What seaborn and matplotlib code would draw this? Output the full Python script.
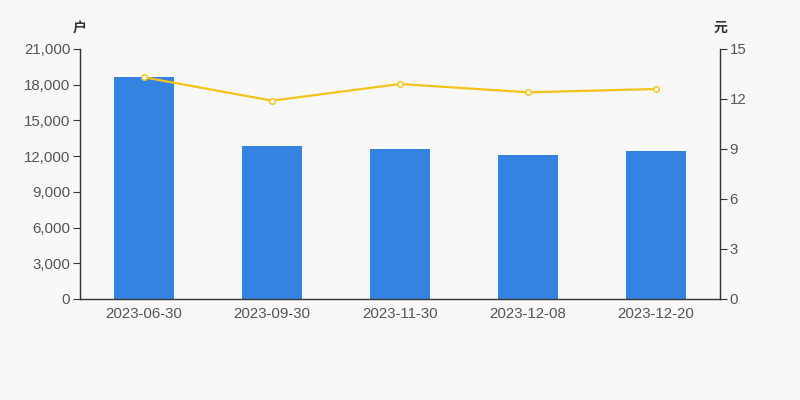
import numpy as np
import pandas as pd
import matplotlib
matplotlib.use('Agg')
import matplotlib.pyplot as plt
import seaborn as sns

# Data
dates = ['2023-06-30', '2023-09-30', '2023-11-30', '2023-12-08', '2023-12-20']
holders = [18650, 12820, 12620, 12130, 12420]   # 户
price = [13.3, 11.9, 12.9, 12.4, 12.6]          # 元

BG = '#f8f8f8'
BAR_COLOR = '#3483e2'
LINE_COLOR = '#f5c21b'
AXIS_COLOR = '#333333'
TEXT_COLOR = '#555555'

sns.set_style('white')
plt.rcParams['font.family'] = ['Liberation Sans', 'Noto Sans CJK SC', 'DejaVu Sans']

df = pd.DataFrame({'date': dates, 'holders': holders, 'price': price})

fig = plt.figure(figsize=(8, 4), dpi=100, facecolor=BG)
ax = fig.add_axes([0.1, 0.2525, 0.8, 0.625])
ax.set_facecolor(BG)

sns.barplot(data=df, x='date', y='holders', color=BAR_COLOR, width=0.47,
            saturation=1, linewidth=0, ax=ax)

ax2 = ax.twinx()
sns.lineplot(x=np.arange(len(dates)), y=df['price'], ax=ax2, color=LINE_COLOR,
             linewidth=1.6, marker='o', markersize=4, markerfacecolor='white',
             markeredgecolor=LINE_COLOR, markeredgewidth=1)

ax.set_xlim(-0.5, len(dates) - 0.5)
ax.set_ylim(0, 21000)
ax.set_yticks(range(0, 21001, 3000))
ax.set_yticklabels([f'{v:,}' for v in range(0, 21001, 3000)])
ax2.set_ylim(0, 15)
ax2.set_yticks(range(0, 16, 3))

# ticks at category boundaries on the x axis
ax.set_xticks(range(len(dates)))
ax.set_xticklabels(dates)
ax.set_xticks(np.arange(-0.5, len(dates)), minor=True)
ax.tick_params(axis='x', which='major', length=0, pad=6, labelsize=10.8, colors=TEXT_COLOR)
ax.tick_params(axis='x', which='minor', length=5, color=AXIS_COLOR)
ax.tick_params(axis='y', length=5, color=AXIS_COLOR, labelsize=10.8, labelcolor=TEXT_COLOR, pad=2)
ax2.tick_params(axis='y', length=5, color=AXIS_COLOR, labelsize=10.8, labelcolor=TEXT_COLOR, pad=2)

ax.set_xlabel('')
ax.set_ylabel('')
ax2.set_xlabel('')
ax2.set_ylabel('')

for a in (ax, ax2):
    a.spines['top'].set_visible(False)
    for s in ('left', 'right', 'bottom'):
        a.spines[s].set_color(AXIS_COLOR)
        a.spines[s].set_linewidth(1)
ax.spines['right'].set_visible(False)
ax2.spines['left'].set_visible(False)
ax2.spines['bottom'].set_visible(False)

fig.text(0.1, 0.93, '户', ha='center', va='center', fontsize=10,
         fontweight='bold', color=AXIS_COLOR)
fig.text(0.9, 0.93, '元', ha='center', va='center', fontsize=10,
         fontweight='bold', color=AXIS_COLOR)

fig.savefig('out.png', dpi=100, facecolor=BG)
